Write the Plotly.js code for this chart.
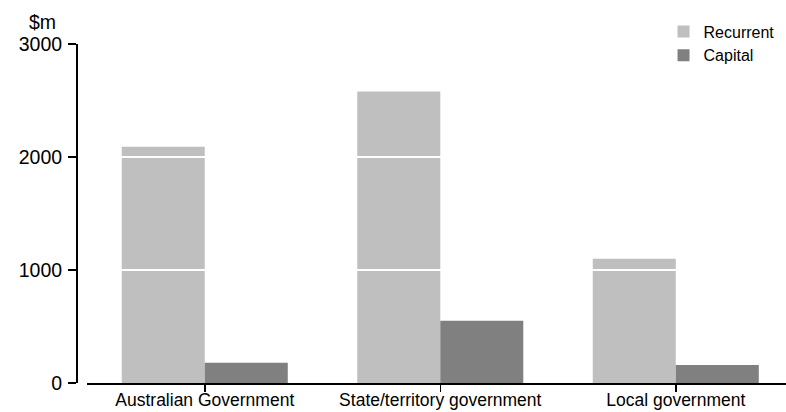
<!DOCTYPE html>
<html>
<head>
<meta charset="utf-8">
<script src="https://cdn.plot.ly/plotly-3.0.1.min.js"></script>
<style>
  html, body { margin: 0; padding: 0; background: #fff; }
  #chart { width: 786px; height: 412px; }
</style>
</head>
<body>
<div id="chart"></div>
<script>
// Data ($m)
const categories = ["Australian Government", "State/territory government", "Local government"];
const recurrent = [2090, 2580, 1100];
const capital = [180, 550, 160];
const yTicks = [0, 1000, 2000, 3000];
const yTickLabels = ["0", "1000", "2000", "3000"];
const seriesNames = ["Recurrent", "Capital"];
const unitLabel = "$m";

const FONT = "Liberation Sans, Arial, Helvetica, sans-serif";

const traces = [
  { type: "bar", name: seriesNames[0], x: categories, y: recurrent,
    marker: { color: "#bfbfbf", line: { width: 0 } }, hoverinfo: "skip" },
  { type: "bar", name: seriesNames[1], x: categories, y: capital,
    marker: { color: "#808080", line: { width: 0 } }, hoverinfo: "skip" }
];

// white gridlines drawn above the bars, at the tick values
const gridShapes = yTicks.filter(v => v > 0).map(v => ({
  type: "line", xref: "paper", yref: "y", x0: 0.0155, x1: 1, y0: v, y1: v,
  line: { color: "#ffffff", width: 2 }, layer: "above"
}));

const layout = {
  width: 786, height: 412,
  margin: { l: 76, r: 0, t: 44, b: 29, pad: 0 },
  paper_bgcolor: "#ffffff", plot_bgcolor: "#ffffff",
  font: { family: FONT, color: "#000000", size: 18 },
  barmode: "group",
  bargap: 0.295,
  bargroupgap: 0,
  showlegend: true,
  legend: {
    x: 0.8275, xanchor: "left", y: 1.087, yanchor: "top",
    font: { family: FONT, size: 16, color: "#000000" },
    bgcolor: "rgba(0,0,0,0)", borderwidth: 0, tracegroupgap: 0
  },
  xaxis: {
    domain: [0.0155, 1],
    range: [-0.5, 2.468],
    type: "category",
    showline: true, linecolor: "#000000", linewidth: 2.2,
    ticks: "outside", ticklen: 7, tickwidth: 1.5, tickcolor: "#000000",
    showgrid: false, zeroline: false,
    tickfont: { family: FONT, size: 17.5, color: "#000000" },
    ticklabelstandoff: -7,
    fixedrange: true
  },
  yaxis: {
    anchor: "free", position: 0,
    range: [0, 3000],
    tickmode: "array", tickvals: yTicks, ticktext: yTickLabels,
    showline: true, linecolor: "#000000", linewidth: 1.5,
    ticks: "outside", ticklen: 8, tickwidth: 1.5, tickcolor: "#000000",
    showgrid: false, zeroline: false,
    tickfont: { family: FONT, size: 19.5, color: "#000000" },
    ticklabelstandoff: 2,
    fixedrange: true
  },
  shapes: gridShapes,
  annotations: [{
    text: unitLabel, xref: "paper", yref: "paper",
    x: -0.0254, y: 1.065, xanchor: "right", yanchor: "middle",
    showarrow: false, font: { family: FONT, size: 19.5, color: "#000000" }
  }]
};

Plotly.newPlot("chart", traces, layout, { displayModeBar: false, staticPlot: true });
</script>
</body>
</html>
